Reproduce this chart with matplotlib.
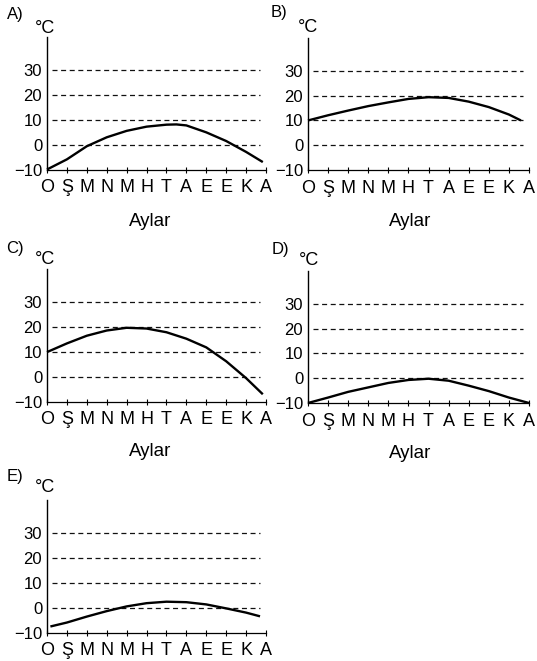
import matplotlib
matplotlib.use("Agg")
import matplotlib.pyplot as plt

plt.rcParams['font.family'] = ['Liberation Sans', 'DejaVu Sans']
plt.rcParams['lines.scale_dashes'] = False

# month initials (Ocak .. Aralik)
months = ["O", "Ş", "M", "N", "M", "H", "T", "A", "E", "E", "K", "A"]
month_pos = list(range(12))
y_ticks = [-10, 0, 10, 20, 30]
y_labels = ["−10", "0", "10", "20", "30"]
grid_levels = [0, 10, 20, 30]

# temperature curves (x = month index, y = degrees C)
a_x = [0, 1, 2, 3, 4, 5, 6, 6.5, 7, 8, 9, 10, 10.84]
a_y = [-10, -5.9, -0.6, 3.0, 5.6, 7.3, 8.1, 8.2, 7.8, 5.0, 1.5, -2.9, -7.0]

b_x = [0, 1, 2, 3, 4, 5, 6, 7, 8, 9, 10, 10.6]
b_y = [10, 12.1, 14.0, 15.8, 17.3, 18.7, 19.4, 19.1, 17.6, 15.4, 12.4, 10]

c_x = [0, 1, 2, 3, 4, 5, 6, 7, 8, 9, 10, 10.84]
c_y = [10, 13.5, 16.6, 18.7, 19.8, 19.5, 18.0, 15.4, 11.9, 6.3, -0.5, -7.0]

d_x = [0, 1, 2, 3, 4, 5, 6, 7, 8, 9, 10, 11]
d_y = [-10, -7.8, -5.5, -3.7, -1.9, -0.7, -0.2, -1.0, -3.0, -5.2, -7.8, -10]

e_x = [0.17, 1, 2, 3, 4, 5, 6, 7, 8, 9, 10, 10.7]
e_y = [-7.5, -5.9, -3.5, -1.3, 0.6, 1.9, 2.5, 2.3, 1.4, -0.2, -1.9, -3.4]

W, H = 537, 661
fig = plt.figure(figsize=(W / 100, H / 100), dpi=100)


def px_axes(left, bottom, right, top):
    # pixel box (from top-left) -> figure fraction axes
    return fig.add_axes([left / W, 1 - bottom / H, (right - left) / W, (bottom - top) / H])


def ftext(x, y, s, **kw):
    fig.text(x / W, 1 - y / H, s, **kw)


def panel(box, xs, ys, letter, letter_xy, degc_xy, aylar_xy=None):
    ax = px_axes(*box)
    ax.set_xlim(0, 11)
    ax.set_ylim(-10, 43.5)
    for lvl in grid_levels:
        ax.hlines(lvl, 0.25, 10.7, colors='#111111', linewidth=0.9,
                  linestyles=(0, (3.6, 2.6)))
    ax.plot(xs, ys, color='black', linewidth=1.7, clip_on=False,
            solid_capstyle='butt', solid_joinstyle='round')
    for s in ['top', 'right']:
        ax.spines[s].set_visible(False)
    ax.spines['left'].set_linewidth(1.0)
    ax.spines['bottom'].set_linewidth(0.9)
    ax.set_xticks(month_pos)
    ax.set_xticklabels(months, fontsize=13)
    ax.tick_params(axis='x', direction='inout', length=4, width=0.8, pad=5)
    ax.set_yticks(y_ticks)
    ax.set_yticklabels(y_labels, fontsize=12)
    ax.tick_params(axis='y', length=0, pad=3.5)
    ax.patch.set_alpha(0)
    ftext(*letter_xy, letter, fontsize=12, ha='center', va='center')
    ftext(*degc_xy, "°C", fontsize=13, ha='center', va='baseline')
    if aylar_xy:
        ftext(*aylar_xy, "Aylar", fontsize=13.5, ha='center', va='baseline')
    return ax


panel((47, 169.5, 266, 37), a_x, a_y, "A)", (15, 15), (45, 33), (150, 226))
panel((308, 170, 529, 37.5), b_x, b_y, "B)", (279, 13), (308, 32), (410, 226))
panel((47, 401.7, 266, 269), c_x, c_y, "C)", (15, 249), (45, 264), (150, 456))
panel((308, 403, 529, 270.5), d_x, d_y, "D)", (280, 250), (309, 265), (410, 458))
panel((47, 632.7, 266, 500), e_x, e_y, "E)", (15, 477), (45, 492))

fig.savefig("out.png", dpi=100)
